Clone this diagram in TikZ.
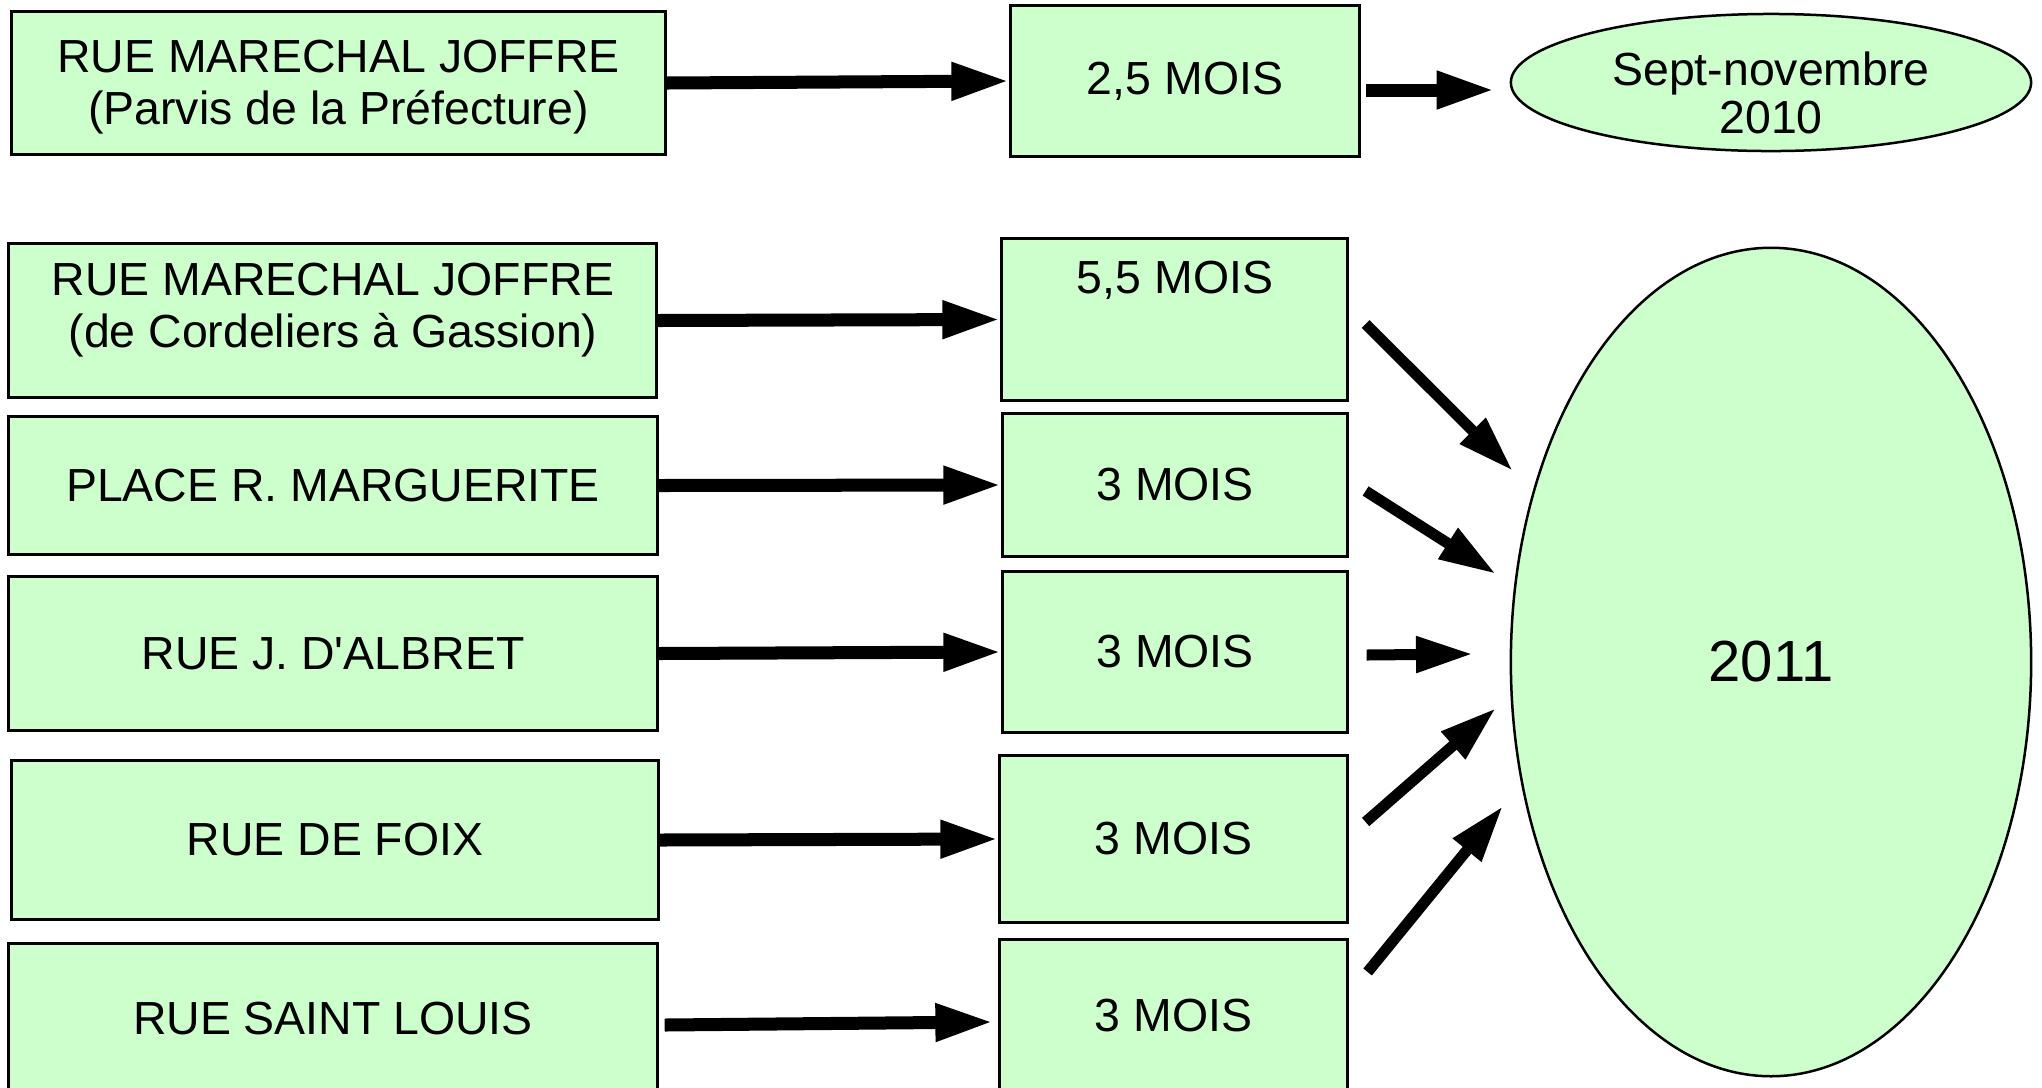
\documentclass[tikz,border=0pt]{standalone}
\usepackage{fontspec}
\setmainfont{Liberation Sans}[Ligatures=TeXOff]
\usetikzlibrary{arrows.meta,shapes.geometric,calc}
\definecolor{boxgreen}{HTML}{CCFFCC}
\begin{document}
\begin{tikzpicture}[x=0.01cm,y=-0.01cm,
  box/.style={draw=black, fill=boxgreen, line width=0.03cm, rectangle, inner sep=0pt, align=center, font=\fontsize{13.2}{14.6}\selectfont},
  oval/.style={draw=black, fill=boxgreen, line width=0.025cm, ellipse, inner sep=0pt, align=center},
  harrow/.style={line width=0.13cm, -{Triangle[length=0.58cm,width=0.35cm]}},
  darrow/.style={line width=0.11cm, -{Triangle[length=0.57cm,width=0.34cm]}},
  lbl/.style={inner sep=0pt, align=center, font=\fontsize{13.2}{14.6}\selectfont}]
\useasboundingbox (0,0) rectangle (2042,1087);
\clip (0,0) rectangle (2042,1087);

% left column
\node[box, minimum width=6.53cm, minimum height=1.42cm] (b1) at (338.5,83) {};
\node[lbl] (b1t) at (338.5,87) {RUE MARECHAL JOFFRE\\(Parvis de la Préfecture)};
\node[box, minimum width=6.47cm, minimum height=1.53cm] (b2) at (332.5,320.5) {};
\node[lbl] (b2t) at (333,310) {RUE MARECHAL JOFFRE\\(de Cordeliers à Gassion)};
\node[box, minimum width=6.48cm, minimum height=1.37cm] (b3) at (333,485.5) {PLACE R. MARGUERITE};
\node[box, minimum width=6.48cm, minimum height=1.53cm] (b4) at (333,653.5) {RUE J. D'ALBRET};
\node[box, minimum width=6.46cm, minimum height=1.58cm] (b5) at (335,840) {RUE DE FOIX};
\node[box, minimum width=6.48cm, minimum height=1.48cm] (b6) at (333,1018) {RUE SAINT LOUIS};

% middle column
\node[box, minimum width=3.48cm, minimum height=1.50cm] (m1) at (1185,81) {2,5 MOIS};
\node[box, minimum width=3.45cm, minimum height=1.61cm] (m2) at (1174.5,319.5) {};
\node[lbl] (m2t) at (1175,280) {5,5 MOIS};
\node[box, minimum width=3.44cm, minimum height=1.42cm] (m3) at (1175,485) {3 MOIS};
\node[box, minimum width=3.44cm, minimum height=1.60cm] (m4) at (1175,652) {3 MOIS};
\node[box, minimum width=3.47cm, minimum height=1.66cm] (m5) at (1173.5,839) {3 MOIS};
\node[box, minimum width=3.47cm, minimum height=1.52cm] (m6) at (1173.5,1016) {3 MOIS};

% right column
\node[oval, minimum width=5.20cm, minimum height=1.37cm] (e1) at (1771,82.5) {};
\node[lbl, font=\fontsize{13.2}{13.6}\selectfont] (e1t) at (1771,93) {Sept-novembre\\2010};
\node[oval, minimum width=5.20cm, minimum height=8.28cm, font=\fontsize{16.5}{18}\selectfont] (e2) at (1771,662) {2011};

% horizontal arrows
\draw[harrow] (b1.east) -- (m1.west);
\draw[harrow] (b2.east) -- (m2.west);
\draw[harrow] (b3.east) -- (m3.west);
\draw[harrow] (b4.east) -- (m4.west);
\draw[harrow] (b5.east) -- (m5.west);
\draw[harrow] ($(b6.east)+(6,7)$) -- ($(m6.west)+(-5,6)$);
\draw[harrow] ($(m1.east)+(5,9)$) -- ($(e1.west)+(-15,7.5)$);

% diagonal arrows towards 2011
\coordinate (t2) at (1513,471);
\coordinate (t3) at (1496,574);
\coordinate (t4) at (1473,654);
\coordinate (t5) at (1496,708);
\coordinate (t6) at (1503,806);
\draw[darrow] ($(m2.east)+(17,4.5)$) -- (t2);
\draw[darrow] ($(m3.east)+(17,6)$) -- (t3);
\draw[darrow] ($(m4.east)+(18,3)$) -- (t4);
\draw[darrow] ($(m5.east)+(17,-17)$) -- (t5);
\draw[darrow] ($(m6.east)+(19,-44)$) -- (t6);
\end{tikzpicture}
\end{document}
